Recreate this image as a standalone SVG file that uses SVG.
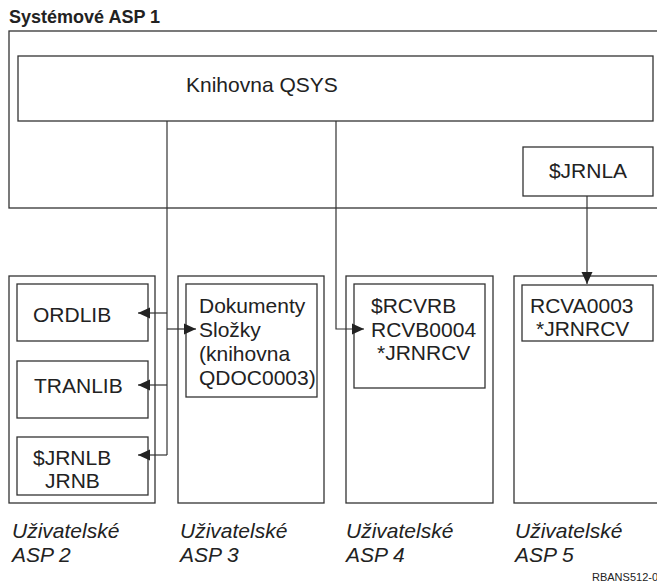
<svg xmlns="http://www.w3.org/2000/svg" width="657" height="586" viewBox="0 0 657 586">
<style>
  .box { fill: none; stroke: #333; stroke-width: 1.3; }
  .ln { fill: none; stroke: #333; stroke-width: 1.2; }
  .t { font-family: "Liberation Sans", Arial, sans-serif; font-size: 21px; fill: #222; }
  .lab { font-family: "Liberation Sans", Arial, sans-serif; font-size: 21px; font-style: italic; fill: #222; }
  .title { font-family: "Liberation Sans", Arial, sans-serif; font-size: 18px; font-weight: bold; fill: #222; }
  .small { font-family: "Liberation Sans", Arial, sans-serif; font-size: 11px; fill: #222; }
</style>
<defs>
  <marker id="arr" viewBox="0 0 12 12" refX="12" refY="6" markerWidth="12" markerHeight="12" markerUnits="userSpaceOnUse" orient="auto">
    <path d="M0,0.5 L12,6 L0,11.5 Z" fill="#222"/>
  </marker>
</defs>
<rect width="657" height="586" fill="#fff"/>

<g id="asp1">
  <text class="title" x="9" y="23">Systémové ASP 1</text>
  <rect class="box" x="9" y="31" width="660" height="177"/>
</g>
<g id="qsys">
  <rect class="box" x="18" y="56" width="635" height="65"/>
  <text class="t" x="186" y="92">Knihovna QSYS</text>
</g>
<g id="jrnla">
  <rect class="box" x="523" y="147" width="130" height="49"/>
  <text class="t" x="588" y="178" text-anchor="middle">$JRNLA</text>
</g>

<g id="asp2">
  <rect class="box" x="9" y="276" width="146" height="227"/>
  <text class="lab" x="12" y="538">Uživatelské</text>
  <text class="lab" x="12" y="562">ASP 2</text>
</g>
<g id="ordlib">
  <rect class="box" x="17" y="284" width="131" height="57"/>
  <text class="t" x="33" y="322">ORDLIB</text>
</g>
<g id="tranlib">
  <rect class="box" x="17" y="361" width="131" height="57"/>
  <text class="t" x="34" y="393">TRANLIB</text>
</g>
<g id="jrnlb">
  <rect class="box" x="17" y="437" width="131" height="58"/>
  <text class="t" x="33" y="465">$JRNLB</text>
  <text class="t" x="45" y="488">JRNB</text>
</g>

<g id="asp3">
  <rect class="box" x="178" y="276" width="146" height="227"/>
  <text class="lab" x="180" y="538">Uživatelské</text>
  <text class="lab" x="180" y="562">ASP 3</text>
</g>
<g id="dokumenty">
  <rect class="box" x="186" y="284" width="131" height="113"/>
  <text class="t" x="199" y="313">Dokumenty</text>
  <text class="t" x="199" y="337">Složky</text>
  <text class="t" x="199" y="361">(knihovna</text>
  <text class="t" x="199" y="385">QDOC0003)</text>
</g>

<g id="asp4">
  <rect class="box" x="346" y="276" width="147" height="227"/>
  <text class="lab" x="346" y="538">Uživatelské</text>
  <text class="lab" x="346" y="562">ASP 4</text>
</g>
<g id="rcvb">
  <rect class="box" x="354" y="284" width="131" height="104"/>
  <text class="t" x="371" y="313">$RCVRB</text>
  <text class="t" x="371" y="337">RCVB0004</text>
  <text class="t" x="377" y="360">*JRNRCV</text>
</g>

<g id="asp5">
  <rect class="box" x="514" y="276" width="160" height="227"/>
  <text class="lab" x="515" y="538">Uživatelské</text>
  <text class="lab" x="515" y="562">ASP 5</text>
</g>
<g id="rcva">
  <rect class="box" x="522" y="285" width="131" height="56"/>
  <text class="t" x="530" y="313">RCVA0003</text>
  <text class="t" x="536" y="336">*JRNRCV</text>
</g>

<g id="connectors">
  <path class="ln" d="M167,121 V455"/>
  <path class="ln" d="M167,313 H138" marker-end="url(#arr)"/>
  <path class="ln" d="M167,385 H138" marker-end="url(#arr)"/>
  <path class="ln" d="M167,455 H138" marker-end="url(#arr)"/>
  <path class="ln" d="M167,329 H196" marker-end="url(#arr)"/>
  <path class="ln" d="M336,121 V329 H364" marker-end="url(#arr)"/>
  <path class="ln" d="M587,196 V284" marker-end="url(#arr)"/>
</g>

<text class="small" x="592" y="581">RBANS512-0</text>
</svg>
